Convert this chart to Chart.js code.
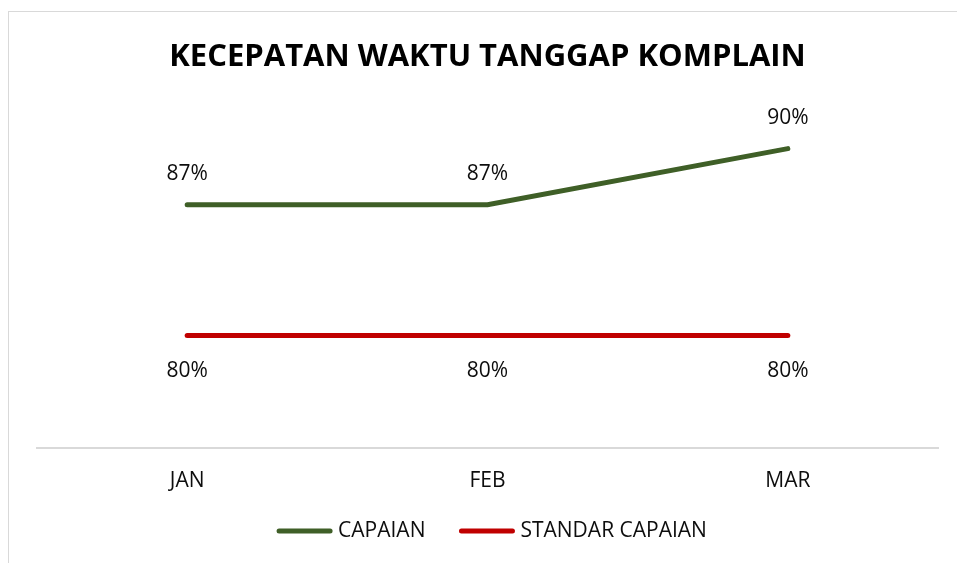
<!DOCTYPE html>
<html>
<head>
<meta charset="utf-8">
<script src="https://cdn.jsdelivr.net/npm/chart.js@4.4.1/dist/chart.umd.min.js"></script>
<style>
  html, body { margin: 0; padding: 0; background: #fff; }
  #wrap { position: relative; width: 957px; height: 563px; }
  #frame { position: absolute; left: 8px; top: 11px; right: -2px; bottom: -2px; border: 1px solid #d9d9d9; }
  #chart { position: absolute; left: 0; top: 0; }
</style>
</head>
<body>
<div id="wrap">
  <div id="frame"></div>
  <canvas id="chart" width="957" height="563"></canvas>
</div>
<script>
// data
const bulan = ['JAN', 'FEB', 'MAR'];
const capaian = [87, 87, 90];
const standarCapaian = [80, 80, 80];

const FONT = "'Open Sans', 'Noto Sans', sans-serif";

// label persen di atas / bawah garis
const labelPlugin = {
    id: 'labelPersen',
    afterDatasetsDraw(chart) {
        const ctx = chart.ctx;
        ctx.save();
        ctx.font = '21px ' + FONT;
        ctx.fillStyle = '#0d0d0d';
        ctx.textAlign = 'center';
        ctx.textBaseline = 'middle';
        chart.data.datasets.forEach(function(ds, i) {
            const meta = chart.getDatasetMeta(i);
            meta.data.forEach(function(pt, j) {
                const dy = i === 0 ? -31 : 35;
                ctx.fillText(ds.data[j] + '%', pt.x, pt.y + dy);
            });
        });
        ctx.restore();
    }
};

// legenda sendiri di bawah
const legendPlugin = {
    id: 'legendaBawah',
    afterDraw(chart) {
        const ctx = chart.ctx;
        const lineLen = 55, gap = 6, sep = 34, y = 531;
        ctx.save();
        ctx.font = '21px ' + FONT;
        ctx.textBaseline = 'middle';
        const items = chart.data.datasets.map(function(ds) {
            return { text: ds.label, color: ds.borderColor, w: ctx.measureText(ds.label).width };
        });
        let total = 0;
        items.forEach(function(it, i) { total += lineLen + gap + it.w + (i < items.length - 1 ? sep : 0); });
        let x = 492 - total / 2;
        items.forEach(function(it) {
            ctx.strokeStyle = it.color;
            ctx.lineWidth = 5;
            ctx.lineCap = 'round';
            ctx.beginPath();
            ctx.moveTo(x + 2, y);
            ctx.lineTo(x + lineLen - 2, y);
            ctx.stroke();
            ctx.fillStyle = '#0d0d0d';
            ctx.fillText(it.text, x + lineLen + gap, y);
            x += lineLen + gap + it.w + sep;
        });
        ctx.restore();
    }
};

new Chart(document.getElementById('chart'), {
    type: 'line',
    data: {
        labels: bulan,
        datasets: [{
            label: 'CAPAIAN',
            data: capaian,
            borderColor: '#3f5f27',
            backgroundColor: '#3f5f27',
            borderWidth: 5,
            borderCapStyle: 'round',
            pointRadius: 0,
            tension: 0
        }, {
            label: 'STANDAR CAPAIAN',
            data: standarCapaian,
            borderColor: '#c00000',
            backgroundColor: '#c00000',
            borderWidth: 5,
            borderCapStyle: 'round',
            pointRadius: 0,
            tension: 0
        }]
    },
    options: {
        responsive: false,
        animation: false,
        layout: { padding: { left: 37, right: 19, top: 39, bottom: 48 } },
        plugins: {
            title: {
                display: true,
                text: 'KECEPATAN WAKTU TANGGAP KOMPLAIN',
                color: '#000',
                font: { family: FONT, size: 31, weight: 'bold' },
                padding: { top: 0, bottom: 35 }
            },
            legend: { display: false },
            tooltip: { enabled: false }
        },
        scales: {
            x: {
                offset: true,
                grid: { display: false, drawTicks: false },
                border: { display: true, color: '#d9d9d9', width: 2 },
                ticks: { color: '#0d0d0d', font: { family: FONT, size: 21 }, padding: 21 }
            },
            y: {
                display: false,
                min: 74,
                max: 92
            }
        }
    },
    plugins: [labelPlugin, legendPlugin]
});
</script>
</body>
</html>
